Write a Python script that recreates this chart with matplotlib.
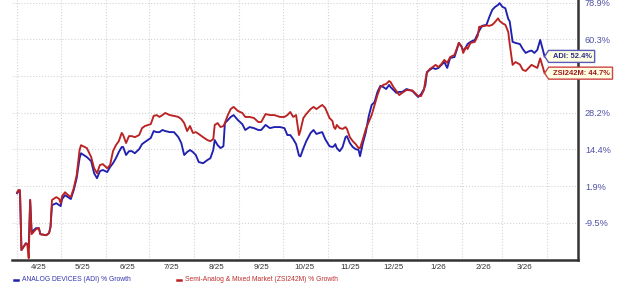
import numpy as np
import pandas as pd
import matplotlib
matplotlib.use("Agg")
import matplotlib.pyplot as plt
from matplotlib.patches import Polygon
from matplotlib.lines import Line2D
from matplotlib.transforms import IdentityTransform

plt.rcParams['font.family'] = ['Liberation Sans', 'DejaVu Sans']

dates = [
    "2025-04-01", "2025-04-02", "2025-04-03", "2025-04-04", "2025-04-07", "2025-04-08",
    "2025-04-09", "2025-04-10", "2025-04-11", "2025-04-14", "2025-04-16", "2025-04-17",
    "2025-04-21", "2025-04-23", "2025-04-24", "2025-04-25", "2025-04-28", "2025-04-30",
    "2025-05-01", "2025-05-02", "2025-05-04", "2025-05-07", "2025-05-08", "2025-05-10",
    "2025-05-12", "2025-05-14", "2025-05-15", "2025-05-19", "2025-05-22", "2025-05-24",
    "2025-05-26", "2025-05-28", "2025-05-30",
    "2025-06-02", "2025-06-04", "2025-06-06", "2025-06-08", "2025-06-10", "2025-06-12",
    "2025-06-13", "2025-06-15", "2025-06-17", "2025-06-19", "2025-06-21", "2025-06-24",
    "2025-06-26", "2025-06-28",
    "2025-07-02", "2025-07-04", "2025-07-06", "2025-07-08", "2025-07-10", "2025-07-12",
    "2025-07-15", "2025-07-18", "2025-07-21", "2025-07-23", "2025-07-25", "2025-07-27",
    "2025-07-29", "2025-07-31",
    "2025-08-02", "2025-08-04", "2025-08-07", "2025-08-10", "2025-08-12", "2025-08-14",
    "2025-08-15", "2025-08-17", "2025-08-19", "2025-08-21", "2025-08-22", "2025-08-24",
    "2025-08-26", "2025-08-28", "2025-08-31",
    "2025-09-03", "2025-09-05", "2025-09-08", "2025-09-11", "2025-09-14", "2025-09-16",
    "2025-09-19", "2025-09-22", "2025-09-25", "2025-09-29",
    "2025-10-02", "2025-10-04", "2025-10-06", "2025-10-08", "2025-10-10", "2025-10-12",
    "2025-10-13", "2025-10-15", "2025-10-17", "2025-10-20", "2025-10-22", "2025-10-24",
    "2025-10-26", "2025-10-28", "2025-10-30",
    "2025-11-02", "2025-11-04", "2025-11-05", "2025-11-06", "2025-11-07", "2025-11-09",
    "2025-11-11", "2025-11-13", "2025-11-14", "2025-11-16", "2025-11-18", "2025-11-20",
    "2025-11-22", "2025-11-23", "2025-11-25", "2025-11-27", "2025-11-29",
    "2025-12-01", "2025-12-03", "2025-12-05", "2025-12-07", "2025-12-09", "2025-12-11",
    "2025-12-13", "2025-12-14", "2025-12-16", "2025-12-18", "2025-12-20", "2025-12-22",
    "2025-12-25", "2025-12-29",
    "2026-01-02", "2026-01-04", "2026-01-06", "2026-01-07", "2026-01-08", "2026-01-10",
    "2026-01-12", "2026-01-14", "2026-01-16", "2026-01-18", "2026-01-20", "2026-01-22",
    "2026-01-24", "2026-01-27", "2026-01-29", "2026-01-30",
    "2026-02-01", "2026-02-02", "2026-02-04", "2026-02-05", "2026-02-07", "2026-02-10",
    "2026-02-12", "2026-02-13", "2026-02-15", "2026-02-18", "2026-02-20", "2026-02-22",
    "2026-02-24", "2026-02-26", "2026-02-27",
    "2026-03-01", "2026-03-03", "2026-03-05", "2026-03-06", "2026-03-08", "2026-03-10",
    "2026-03-13", "2026-03-15", "2026-03-17", "2026-03-19", "2026-03-21", "2026-03-23",
    "2026-03-25", "2026-03-27", "2026-03-30",
]

# % growth, ANALOG DEVICES (ADI)
adi = [
    -0.3, 0.3, 0.0, -17.2, -15.3, -15.5, -16.4, -2.4, -12.1, -11.0, -11.0, -12.7,
    -13.0, -12.4, -10.7, -4.0, -3.4, -4.0,
    -4.3, -2.1, -0.9, -1.8, -2.1, 0.7, 4.6, 11.4, 13.1, 11.8, 10.4, 6.3, 4.6, 7.0, 7.4,
    6.7, 8.4, 9.7, 11.4, 13.5, 15.3, 15.3, 12.5, 13.8, 13.8, 13.1, 14.5, 16.4, 17.2,
    18.7, 21.3, 20.9, 20.9, 21.7, 21.3, 20.9, 20.9, 19.0, 16.8, 12.5, 13.5, 14.2, 13.5,
    12.5, 10.1, 9.7, 10.8, 11.4, 14.2, 17.9, 16.0, 14.9, 15.6, 24.3, 25.4, 26.6, 27.3, 25.4,
    23.9, 21.7, 22.8, 22.4, 21.7, 21.7, 23.6, 22.4, 22.8, 22.8,
    22.4, 19.8, 19.8, 18.3, 16.4, 12.3, 12.0, 14.8, 17.5, 20.6, 21.7, 20.2, 20.6, 20.9, 18.3,
    15.6, 15.3, 15.6, 16.4, 14.9, 13.8, 15.3, 19.0, 19.4, 16.8, 15.3, 14.5, 14.2, 12.1,
    16.8, 20.9, 26.9,
    31.4, 32.6, 36.8, 39.3, 38.8, 38.0, 39.7, 38.8, 37.6, 36.4, 36.8, 36.8, 38.0, 37.2,
    34.7, 35.9, 38.0, 39.7, 45.2, 46.2, 47.1, 46.6, 47.1, 48.5, 49.8, 47.1, 51.7, 52.1,
    56.3, 58.6,
    56.8, 54.9, 56.8, 58.1, 59.1, 60.0, 63.0, 64.6, 67.1, 67.6, 71.6, 75.2, 76.7, 77.7, 78.6,
    76.7, 76.0, 70.6, 69.4, 59.1, 58.6, 58.1, 55.8, 54.0, 54.7, 55.1, 54.0, 55.4, 60.0, 52.4,
]

# % growth, Semi-Analog & Mixed Market (ZSI242M)
zsi = [
    0.0, 0.7, 0.7, -17.2, -15.3, -15.5, -19.5, -2.4, -12.7, -11.3, -11.0, -12.7,
    -13.0, -12.4, -10.7, -2.4, -1.5, -2.1,
    -3.4, -1.2, 0.0, -1.2, -1.5, 1.3, 5.6, 14.2, 16.0, 14.9, 11.8, 8.0, 6.3, 9.1, 9.4,
    8.0, 9.1, 13.8, 16.0, 17.5, 20.6, 19.8, 16.8, 19.4, 19.4, 19.0, 19.8, 22.4, 23.2,
    23.9, 27.0, 27.3, 26.6, 27.3, 28.1, 27.3, 27.0, 26.6, 25.8, 24.3, 21.3, 23.2, 20.6,
    20.9, 20.2, 19.0, 17.9, 17.5, 18.3, 23.6, 24.3, 22.8, 23.2, 24.3, 27.3, 29.7, 30.6, 28.9,
    28.1, 26.6, 26.6, 26.2, 24.7, 24.7, 27.7, 27.3, 27.3, 26.6,
    26.6, 27.3, 28.5, 26.6, 27.3, 19.8, 21.5, 26.2, 27.7, 29.7, 30.6, 29.7, 30.6, 31.4, 30.2,
    26.2, 25.1, 22.8, 22.1, 23.6, 22.4, 22.1, 22.8, 22.1, 19.0, 17.5, 16.4, 14.9, 14.9,
    18.3, 22.1, 24.7,
    27.3, 31.4, 35.5, 38.8, 39.7, 40.1, 41.3, 40.9, 38.8, 37.2, 35.5, 36.4, 37.6, 37.4,
    35.1, 35.1, 37.6, 41.7, 44.8, 46.6, 47.5, 48.5, 47.5, 48.9, 50.8, 49.4, 52.1, 53.1,
    56.8, 58.6,
    56.8, 54.0, 56.8, 55.8, 58.6, 59.1, 62.0, 66.6, 66.8, 67.3, 67.1, 67.6, 69.1, 70.9, 69.6,
    68.4, 67.6, 64.0, 58.1, 48.5, 49.8, 48.7, 46.2, 45.7, 47.1, 48.5, 47.8, 47.1, 51.5, 44.7,
]

ytick_vals = [-9.5, 1.9, 14.4, 28.2, 43.4, 60.3, 78.9]
ytick_labels = ["-9.5%", "1.9%", "14.4%", "28.2%", "", "60.3%", "78.9%"]
month_labels = ["4/25", "5/25", "6/25", "7/25", "8/25", "9/25", "10/25", "11/25",
                "12/25", "1/26", "2/26", "3/26"]

x = pd.to_datetime(dates)

# the growth ticks are evenly spaced on the chart (log-like), so map through them
scale_vals = [-29.0, -19.9] + ytick_vals + [99.3, 122.0]
scale_pos = np.arange(len(scale_vals)) - 2.0


def fwd(v):
    return np.interp(v, scale_vals, scale_pos)


def inv(p):
    return np.interp(p, scale_pos, scale_vals)


BLUE = "#2020b0"
RED = "#bb2222"

fig = plt.figure(figsize=(6.2, 2.9), dpi=100)
ax = fig.add_axes([12 / 620, 1 - 260 / 290, 566 / 620, 260 / 290])

ax.plot(x, adi, color=BLUE, lw=1.35, zorder=3)
ax.plot(x, zsi, color=RED, lw=1.35, zorder=3)

ax.set_yscale('function', functions=(fwd, inv))
ax.set_ylim(-20.0, 80.3)
ax.set_xlim(pd.Timestamp("2025-03-28 12:00"), pd.Timestamp("2026-04-22"))

month_starts = pd.date_range("2025-04-01", "2026-04-01", freq="MS")
mid_months = [pd.Timestamp(2025, 4, 16) + pd.DateOffset(months=i) for i in range(12)]
ax.set_xticks(month_starts, [""] * len(month_starts))
ax.set_xticks(mid_months, month_labels, minor=True)
ax.tick_params(axis='x', which='both', length=0, pad=3, labelsize=5.8, labelcolor="#333333")

ax.yaxis.tick_right()
ax.set_yticks(ytick_vals, ytick_labels)
ax.tick_params(axis='y', length=0, pad=5, labelsize=6.6, labelcolor="#5050a8")

ax.grid(True, which='major', color="#d4d4d4", linestyle=":", lw=0.8, zorder=0)
for side in ["left", "top"]:
    ax.spines[side].set_visible(False)
for side in ["right", "bottom"]:
    ax.spines[side].set_color("#333333")
    ax.spines[side].set_linewidth(1.8)

# legend under the chart
fig.add_artist(Line2D([14 / 620, 18 / 620], [0.035, 0.035], color=BLUE, lw=1.8))
fig.text(22 / 620, 0.035, "ANALOG DEVICES (ADI) % Growth", color="#3535b0",
         fontsize=4.9, va="center", ha="left")
fig.add_artist(Line2D([177 / 620, 181 / 620], [0.035, 0.035], color=RED, lw=1.8))
fig.text(185 / 620, 0.035, "Semi-Analog & Mixed Market (ZSI242M) % Growth", color="#c03030",
         fontsize=4.9, va="center", ha="left")

# end-value tags
tags = [("ADI: 52.4%", adi[-1], "#5a5ab8", "#2a2a90"),
        ("ZSI242M: 44.7%", zsi[-1], "#cc4444", "#a01818")]
texts = []
for label, val, edge, tc in tags:
    t = ax.annotate(label, xy=(x[-1], val), xytext=(5.8, 0), textcoords="offset points",
                    ha="left", va="center", fontsize=5.4, fontweight="bold", color=tc,
                    zorder=7, annotation_clip=False)
    texts.append((t, edge))

fig.canvas.draw()
renderer = fig.canvas.get_renderer()
for t, edge in texts:
    bb = t.get_window_extent(renderer)
    yc = (bb.y0 + bb.y1) / 2
    left = bb.x0 - 4
    right = bb.x1 + 3
    verts = [(bb.x0 - 8, yc), (left, yc + 6), (right, yc + 6), (right, yc - 6), (left, yc - 6)]
    ax.add_patch(Polygon(verts, closed=True, transform=IdentityTransform(), facecolor="#ffffe3",
                         edgecolor=edge, lw=1.0, zorder=6, clip_on=False))

fig.savefig("out.png", dpi=100)
